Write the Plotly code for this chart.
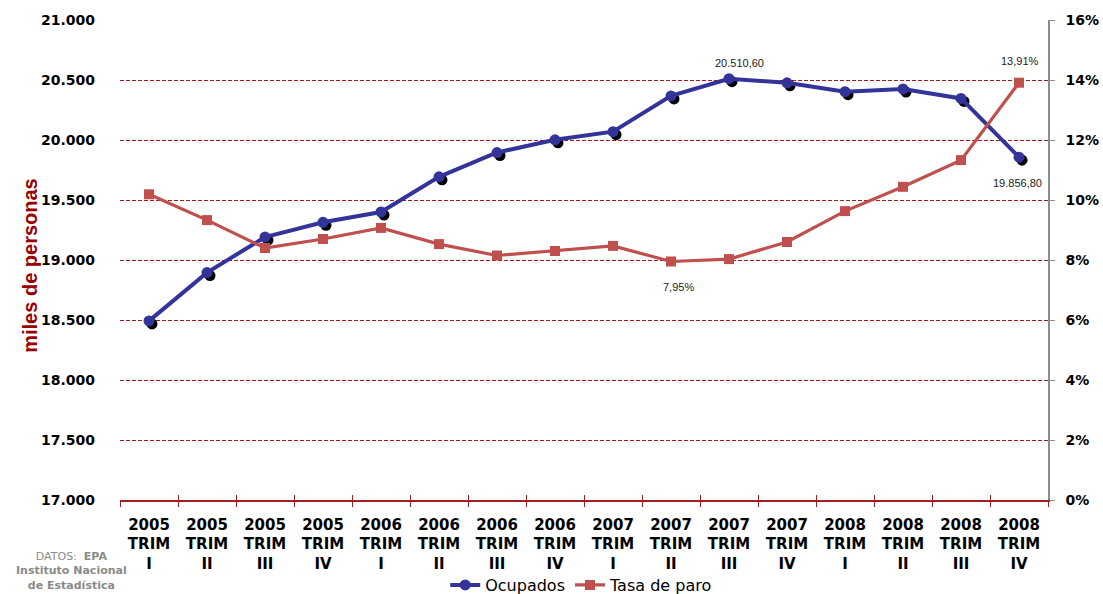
import plotly.graph_objects as go

# Quarterly EPA series, 2005-2008
years = ["2005"] * 4 + ["2006"] * 4 + ["2007"] * 4 + ["2008"] * 4
quarters = ["I", "II", "III", "IV"] * 4
categories = [f"{y}<br>TRIM<br>{q}" for y, q in zip(years, quarters)]

ocupados = [18492.7, 18894.9, 19191.1, 19314.3, 19400.1, 19693.1, 19895.6, 20001.8,
            20069.2, 20367.3, 20510.6, 20476.9, 20402.3, 20425.1, 20346.3, 19856.8]
tasa_paro = [10.19, 9.33, 8.40, 8.70, 9.07, 8.53, 8.15, 8.30,
             8.47, 7.95, 8.03, 8.60, 9.63, 10.44, 11.33, 13.91]

left_ticks = [17000, 17500, 18000, 18500, 19000, 19500, 20000, 20500, 21000]
right_ticks = [0, 2, 4, 6, 8, 10, 12, 14, 16]

BLUE = "#333399"
RED = "#C0504D"
GRID = "#A31F1F"
TICKFONT = dict(family="DejaVu Sans", size=14, color="#000000", weight="bold")
XTICKFONT = dict(family="DejaVu Sans", size=15, color="#000000", weight="bold")

# pixel geometry of the plot area, used to offset the marker shadow
PLOT_W, PLOT_H = 1103 - 120 - 55, 594 - 20 - 94
n = len(categories)
px_x = n / PLOT_W
px_y = (left_ticks[-1] - left_ticks[0]) / PLOT_H
SHADOW = 3


def es_num(v, dec=2):
    s = f"{v:,.{dec}f}"
    return s.replace(",", "#").replace(".", ",").replace("#", ".")


fig = go.Figure()

# marker shadow (drawn on slightly shifted axes)
fig.add_trace(go.Scatter(
    x=categories, y=ocupados, mode="markers", xaxis="x", yaxis="y",
    marker=dict(symbol="circle", size=11, color="#000000"),
    showlegend=False, hoverinfo="skip"))

fig.add_trace(go.Scatter(
    x=categories, y=ocupados, name="Ocupados", mode="lines+markers",
    xaxis="x2", yaxis="y2",
    line=dict(color=BLUE, width=4),
    marker=dict(symbol="circle", size=11, color=BLUE)))

fig.add_trace(go.Scatter(
    x=categories, y=tasa_paro, name="Tasa de paro", mode="lines+markers",
    xaxis="x3", yaxis="y3",
    line=dict(color=RED, width=3.2),
    marker=dict(symbol="square", size=10, color=RED)))

x_range = [-0.5, n - 0.5]
y_range = [left_ticks[0], left_ticks[-1]]

fig.update_layout(
    width=1103, height=594,
    margin=dict(l=120, r=55, t=20, b=94, autoexpand=False),
    paper_bgcolor="white", plot_bgcolor="white",
    showlegend=True,
    legend=dict(orientation="h", x=0.497, xanchor="center",
                yref="container", y=(594 - 585) / 594, yanchor="middle",
                font=dict(family="DejaVu Sans", size=16, color="#000000"),
                bgcolor="rgba(0,0,0,0)", itemwidth=30, tracegroupgap=0),
    xaxis=dict(type="category", categoryorder="array", categoryarray=categories,
               range=[x_range[0] - SHADOW * px_x, x_range[1] - SHADOW * px_x],
               visible=False, fixedrange=True, automargin=False),
    yaxis=dict(range=[y_range[0] + SHADOW * px_y, y_range[1] + SHADOW * px_y],
               visible=False, fixedrange=True, automargin=False),
    xaxis2=dict(type="category", categoryorder="array", categoryarray=categories,
                overlaying="x", anchor="y2", range=x_range, side="bottom",
                showline=True, linecolor=GRID, linewidth=1.5,
                ticks="outside", ticklen=5, tickcolor=GRID, tickwidth=1,
                tickson="boundaries", showgrid=False, automargin=False,
                tickfont=XTICKFONT, ticklabelstandoff=10),
    xaxis3=dict(type="category", categoryorder="array", categoryarray=categories,
                overlaying="x", anchor="y2", range=x_range, side="bottom",
                showline=False, ticks="inside", ticklen=5, tickcolor=GRID, tickwidth=1,
                tickson="boundaries", showgrid=False, showticklabels=False,
                automargin=False),
    yaxis2=dict(overlaying="y", anchor="x2", side="left", range=y_range,
                tickvals=left_ticks, ticktext=[es_num(v, 0) for v in left_ticks],
                showgrid=True, gridcolor=GRID, griddash="4px,2px", gridwidth=1,
                showline=False, ticks="", zeroline=False, automargin=False,
                tickfont=TICKFONT, ticklabelstandoff=24),
    yaxis3=dict(overlaying="y", anchor="x2", side="right",
                range=[right_ticks[0], right_ticks[-1]],
                tickvals=right_ticks, ticktext=[f"{v}%" for v in right_ticks],
                showgrid=False, zeroline=False, automargin=False,
                showline=True, linecolor="#8C8C8C", linewidth=1.5,
                ticks="outside", ticklen=5, tickcolor="#8C8C8C",
                tickfont=TICKFONT, ticklabelstandoff=8),
)

# value labels
LABEL_FONT = dict(family="Liberation Sans", size=11, color="#222222")
i_max = ocupados.index(max(ocupados))
i_min = tasa_paro.index(min(tasa_paro))
last = n - 1
annotations = [
    dict(x=categories[i_max], y=ocupados[i_max], xref="x2", yref="y2",
         text=es_num(ocupados[i_max]), showarrow=False, yshift=16, xshift=10),
    dict(x=categories[last], y=ocupados[last], xref="x2", yref="y2",
         text=es_num(ocupados[last]), showarrow=False, yshift=-26, xshift=-2),
    dict(x=categories[last], y=tasa_paro[last], xref="x3", yref="y3",
         text=es_num(tasa_paro[last]) + "%", showarrow=False, yshift=22, xshift=1),
    dict(x=categories[i_min], y=tasa_paro[i_min], xref="x3", yref="y3",
         text=es_num(tasa_paro[i_min]) + "%", showarrow=False, yshift=-25, xshift=7),
]
for a in annotations:
    a["font"] = LABEL_FONT

annotations += [
    dict(text="miles de personas", textangle=-90, showarrow=False,
         xref="paper", yref="paper", x=-0.097, y=0.49, xanchor="center", yanchor="middle",
         font=dict(family="Liberation Sans", size=20, color="#990000", weight="bold")),
    dict(text="DATOS:  <b>EPA</b><br><b>Instituto Nacional</b><br><b>de Estadística</b>",
         showarrow=False, xref="paper", yref="paper", x=-0.052, y=-0.148,
         xanchor="center", yanchor="middle", align="center",
         font=dict(family="DejaVu Sans", size=11, color="#8A8A8A")),
]
fig.update_layout(annotations=annotations)

fig.write_html("out.html")
